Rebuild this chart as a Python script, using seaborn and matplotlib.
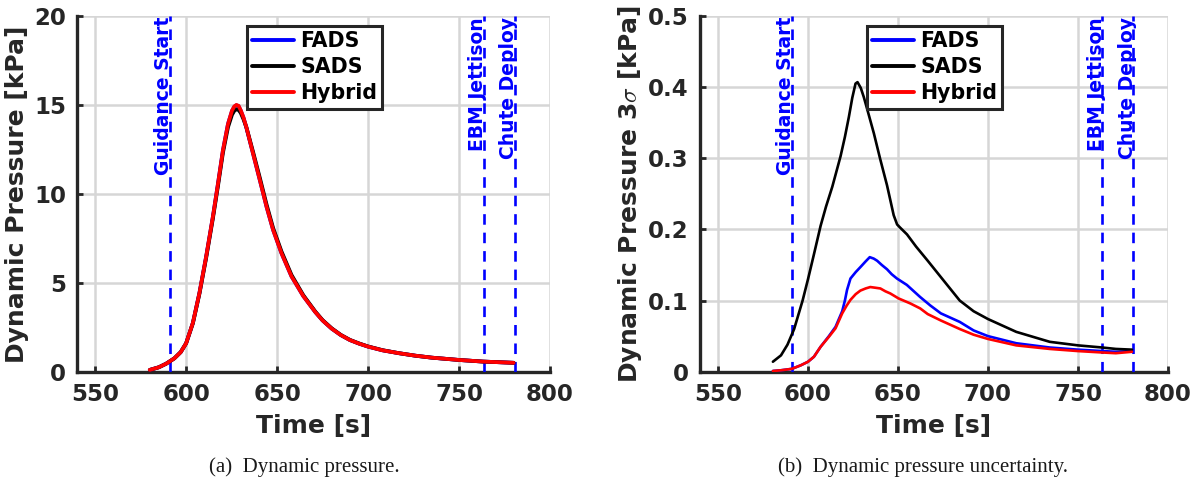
import matplotlib
matplotlib.use("Agg")
import matplotlib.pyplot as plt
from matplotlib.lines import Line2D
import matplotlib.transforms as mtransforms
import pandas as pd
import seaborn as sns

# ---- series names and colours ----
sensors = ["FADS", "SADS", "Hybrid"]
colors = {"FADS": "#0000ff", "SADS": "#000000", "Hybrid": "#ff0000"}

# ---- event markers [s] ----
event_names = ["Guidance Start", "EBM Jettison", "Chute Deploy"]
event_times = [591.0, 763.5, 780.7]

# ---- panel (a): dynamic pressure [kPa] ----
t_q = [580, 585, 589, 593.5, 597, 600, 603.7, 607.3, 611, 614.7, 617.5, 620.2,
       623, 625.2, 626.5, 627.6, 628.8, 630, 631.5, 633.1, 636.8, 640.5, 644.2,
       647.8, 652.4, 657.9, 664.4, 671, 675, 680, 685, 690, 695, 700, 708, 717,
       726, 735, 750, 763, 780]
q_fads = [0.10, 0.25, 0.45, 0.75, 1.10, 1.60, 2.75, 4.43, 6.48, 8.72, 10.58, 12.44,
          13.93, 14.66, 14.90, 14.98, 14.93, 14.68, 14.28, 13.72, 12.25, 10.77, 9.27,
          7.97, 6.66, 5.36, 4.25, 3.35, 2.88, 2.42, 2.06, 1.78, 1.58, 1.41, 1.20, 1.04,
          0.90, 0.79, 0.66, 0.57, 0.50]
q_sads = [0.10, 0.25, 0.45, 0.75, 1.10, 1.60, 2.72, 4.38, 6.40, 8.62, 10.45, 12.30,
          13.75, 14.45, 14.68, 14.75, 14.72, 14.55, 14.20, 13.75, 12.35, 10.90, 9.40,
          8.08, 6.76, 5.44, 4.30, 3.38, 2.90, 2.44, 2.07, 1.79, 1.59, 1.42, 1.21, 1.04,
          0.90, 0.79, 0.66, 0.57, 0.50]
q_hybrid = [0.10, 0.25, 0.45, 0.75, 1.10, 1.60, 2.75, 4.43, 6.48, 8.72, 10.58, 12.44,
            13.93, 14.68, 14.92, 15.00, 14.95, 14.70, 14.30, 13.74, 12.25, 10.77, 9.27,
            7.97, 6.66, 5.36, 4.25, 3.35, 2.88, 2.42, 2.06, 1.78, 1.58, 1.41, 1.20, 1.04,
            0.90, 0.79, 0.66, 0.57, 0.50]

# ---- panel (b): dynamic pressure 3-sigma [kPa] ----
t_s_fads = [580.5, 585, 591, 596, 600, 603.3, 607, 611.6, 615.3, 619, 620.5, 621.7,
            623.6, 626.5, 629.1, 632, 634.3, 636.5, 638.4, 641, 643.9, 646.5, 649.4,
            654.9, 662.3, 668, 673.8, 684.3, 692, 700, 715.7, 734.3, 750, 763.5, 771, 780]
s_fads = [0.001, 0.002, 0.004, 0.009, 0.014, 0.021, 0.035, 0.050, 0.063, 0.085, 0.100,
          0.115, 0.131, 0.140, 0.147, 0.155, 0.161, 0.159, 0.156, 0.150, 0.144, 0.137,
          0.131, 0.122, 0.105, 0.093, 0.082, 0.070, 0.058, 0.050, 0.040, 0.034, 0.031,
          0.029, 0.028, 0.029]

t_s_sads = [580.5, 585, 588.6, 592.3, 597, 600, 603.3, 607, 610, 613.5, 618.1, 620.5,
            622.7, 624.6, 626.4, 627.5, 629.3, 631, 633, 636.6, 640, 643.9, 647.6, 649.5,
            651, 655, 660, 666.5, 673.8, 684.3, 692, 700, 715.7, 734.3, 750, 763.5, 771, 780]
s_sads = [0.014, 0.023, 0.038, 0.060, 0.100, 0.130, 0.165, 0.205, 0.232, 0.260, 0.303,
          0.330, 0.358, 0.385, 0.405, 0.407, 0.399, 0.386, 0.368, 0.335, 0.300, 0.262,
          0.220, 0.207, 0.203, 0.193, 0.176, 0.156, 0.133, 0.100, 0.085, 0.074, 0.056,
          0.042, 0.037, 0.034, 0.032, 0.031]

t_s_hybrid = [580.5, 585, 591, 596, 600, 603.3, 607, 611.6, 615.3, 619, 621.5, 623.6,
              626.5, 629.1, 632, 634.6, 637.5, 640.2, 643, 645.7, 650.3, 656.8, 662.3,
              666.5, 673.8, 684.3, 692, 700, 715.7, 734.3, 750, 763.5, 771, 780]
s_hybrid = [0.001, 0.002, 0.004, 0.009, 0.014, 0.021, 0.035, 0.049, 0.061, 0.082, 0.093,
            0.101, 0.109, 0.114, 0.117, 0.119, 0.118, 0.117, 0.113, 0.110, 0.103, 0.096,
            0.089, 0.081, 0.072, 0.060, 0.052, 0.046, 0.037, 0.032, 0.029, 0.027, 0.026,
            0.028]


def long_frame(series):
    rows = []
    for name, (t, vals) in series.items():
        for ti, vi in zip(t, vals):
            rows.append((name, ti, vi))
    return pd.DataFrame(rows, columns=["Sensor", "Time", "Value"])


df_q = long_frame({"FADS": (t_q, q_fads), "SADS": (t_q, q_sads),
                   "Hybrid": (t_q, q_hybrid)})
df_s = long_frame({"FADS": (t_s_fads, s_fads), "SADS": (t_s_sads, s_sads),
                   "Hybrid": (t_s_hybrid, s_hybrid)})

sns.set_theme(style="whitegrid")
plt.rcParams["font.family"] = ["DejaVu Sans"]
plt.rcParams["font.weight"] = "bold"
plt.rcParams["mathtext.fontset"] = "cm"

DARK = "#262626"
W, H = 1199, 483
fig = plt.figure(figsize=(W / 100, H / 100), dpi=100)
bottom = 1 - 371.7 / H
height = 355.7 / H
ax1 = fig.add_axes([77 / W, bottom, 473 / W, height])
ax2 = fig.add_axes([700 / W, bottom, 468 / W, height])


def style_axes(ax, yticks, yfmt, ylim):
    ax.set_xlim(540, 800)
    ax.set_ylim(*ylim)
    ax.set_xticks([550, 600, 650, 700, 750, 800])
    ax.set_yticks(yticks)
    ax.set_yticklabels([yfmt(v) for v in yticks])
    ax.set_facecolor("white")
    ax.grid(True, color="#d6d6d6", linewidth=1.8)
    ax.set_axisbelow(True)
    for side in ("top", "right"):
        ax.spines[side].set_visible(False)
    for side in ("left", "bottom"):
        ax.spines[side].set_visible(True)
        ax.spines[side].set_color(DARK)
        ax.spines[side].set_linewidth(2.4)
    ax.tick_params(axis="both", direction="in", length=4, width=2, color=DARK,
                   labelsize=16.5, labelcolor=DARK, pad=8,
                   bottom=True, left=True)
    for lab in ax.get_xticklabels() + ax.get_yticklabels():
        lab.set_fontweight("bold")


def draw_events(ax):
    trans = mtransforms.blended_transform_factory(ax.transData, ax.transAxes)
    for name, x in zip(event_names, event_times):
        ax.axvline(x, color="#0000ff", linewidth=1.9, linestyle=(0, (4, 3)), zorder=3)
        ax.text(x - 0.4, 0.997, name, transform=trans, rotation=90,
                rotation_mode="anchor", ha="right", va="baseline", color="#0000ff",
                fontsize=13.5, fontweight="bold", zorder=4)


def draw_legend(ax, x0):
    handles = [Line2D([], [], color=colors[s], linewidth=2.8) for s in sensors]
    leg = ax.legend(handles, sensors, loc="upper left", bbox_to_anchor=(x0, 0.972),
                    frameon=True, fancybox=False, framealpha=1, edgecolor=DARK,
                    prop={"weight": "bold", "size": 14.8}, handlelength=2.05,
                    handletextpad=0.3, labelspacing=0.3, borderpad=0.25,
                    borderaxespad=0)
    leg.get_frame().set_linewidth(2.2)
    leg.set_zorder(6)
    for txt in leg.get_texts():
        txt.set_color("black")


for ax, df, lw in ((ax1, df_q, 2.7), (ax2, df_s, 1.9)):
    sns.lineplot(data=df, x="Time", y="Value", hue="Sensor", hue_order=sensors,
                 palette=colors, linewidth=lw, estimator=None, sort=False,
                 legend=False, ax=ax, zorder=5)

style_axes(ax1, [0, 5, 10, 15, 20], lambda v: f"{v:g}", (0, 20))
style_axes(ax2, [0, 0.1, 0.2, 0.3, 0.4, 0.5],
           lambda v: "0" if v == 0 else f"{v:.1f}", (0, 0.5))

for ax in (ax1, ax2):
    draw_events(ax)
    ax.set_xlabel("Time [s]", fontsize=18, fontweight="bold", color=DARK)
    ax.xaxis.set_label_coords(0.5, -0.118)

ax1.set_ylabel("Dynamic Pressure [kPa]", fontsize=18, fontweight="bold", color=DARK)
ax2.set_ylabel(r"Dynamic Pressure 3$\sigma$ [kPa]", fontsize=18, fontweight="bold",
               color=DARK)
ax1.yaxis.set_label_coords(-0.101, 0.5)
ax2.yaxis.set_label_coords(-0.12, 0.5)

draw_legend(ax1, 0.359)
draw_legend(ax2, 0.356)

cap = dict(family="Liberation Serif", fontsize=15, fontweight="normal",
           ha="center", va="baseline", color="#1a1a1a")
fig.text(304 / W, 1 - 472 / H, "(a)  Dynamic pressure.", **cap)
fig.text(923 / W, 1 - 472 / H, "(b)  Dynamic pressure uncertainty.", **cap)

fig.savefig("out.png", dpi=100, facecolor="white")
